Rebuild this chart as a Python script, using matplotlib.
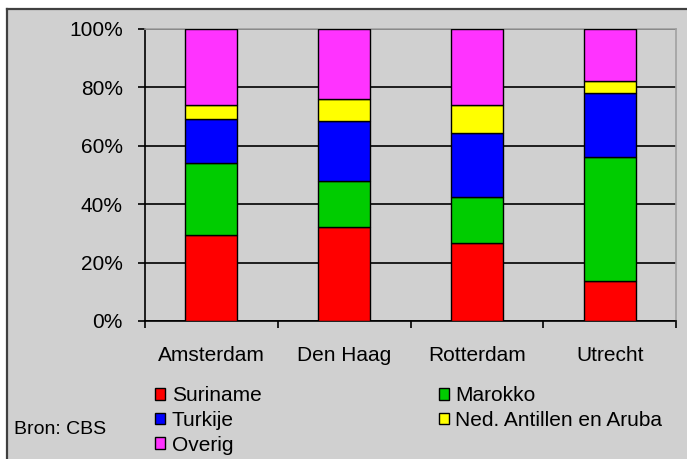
import numpy as np
import matplotlib.pyplot as plt
from matplotlib.patches import Rectangle, Patch
from matplotlib.lines import Line2D

plt.rcParams['font.family'] = ['Liberation Sans', 'DejaVu Sans']

cities = ['Amsterdam', 'Den Haag', 'Rotterdam', 'Utrecht']
groups = ['Suriname', 'Marokko', 'Turkije', 'Ned. Antillen en Aruba', 'Overig']
colors = ['#ff0000', '#00cc00', '#0000ff', '#ffff00', '#ff33ff']

# shares in percent
suriname = [29.6, 32.3, 26.8, 13.8]
marokko = [24.6, 15.6, 15.7, 42.4]
turkije = [15.1, 20.7, 22.0, 22.0]
antillen = [4.6, 7.5, 9.5, 4.1]
overig = [26.1, 23.9, 26.0, 17.7]

yticks = [0, 20, 40, 60, 80, 100]

bg = '#d0d0d0'
fig = plt.figure(figsize=(6.87, 4.59), dpi=100, facecolor='white')

# grey chart area with dark frame on left and top
fig.patches.append(Rectangle((7 / 687, 0), 1, 1 - 9 / 459, transform=fig.transFigure,
                             facecolor=bg, edgecolor='none', zorder=-2))
fig.lines.append(Line2D([7 / 687, 7 / 687], [0, 1 - 9 / 459], transform=fig.transFigure,
                        color='#404040', lw=1.6, zorder=-1))
fig.lines.append(Line2D([7 / 687, 1], [1 - 9 / 459, 1 - 9 / 459], transform=fig.transFigure,
                        color='#404040', lw=1.6, zorder=-1))

ax = fig.add_axes([145 / 687, 1 - 321 / 459, (676 - 145) / 687, (321 - 29) / 459])
ax.set_facecolor(bg)

series = [suriname, marokko, turkije, antillen, overig]
x = np.arange(len(cities))
bottom = np.zeros(len(cities))
for vals, col, name in zip(series, colors, groups):
    vals = np.array(vals)
    ax.bar(x, vals, 0.39, bottom=bottom, color=col, edgecolor='black', linewidth=1.0,
           label=name, zorder=3)
    bottom += vals

ax.set_xlim(-0.5, len(cities) - 0.5)
ax.set_ylim(0, 100)
ax.set_yticks(yticks)
ax.set_yticklabels([f'{t}%' for t in yticks])
ax.set_xticks(x)
ax.set_xticklabels(cities)
ax.set_xticks(np.arange(len(cities) + 1) - 0.5, minor=True)

ax.tick_params(axis='y', length=5, width=1.2, pad=11, labelsize=15, color='black')
ax.tick_params(axis='x', which='major', length=0, pad=18, labelsize=15)
ax.tick_params(axis='x', which='minor', length=5, width=1.2, color='black')

ax.set_axisbelow(True)
ax.yaxis.grid(True, color='black', linewidth=1.2)

for side in ['left', 'bottom']:
    ax.spines[side].set_color('black')
    ax.spines[side].set_linewidth(1.2)
for side in ['top', 'right']:
    ax.spines[side].set_color('#a0a0a0')
    ax.spines[side].set_linewidth(1.2)

# legend: column-wise order as in the original
order = [0, 2, 4, 1, 3]
handles = [Patch(facecolor=colors[i], edgecolor='black', linewidth=1.0) for i in order]
labels = [groups[i] for i in order]
fig.legend(handles, labels, ncol=2, loc='upper left',
           bbox_to_anchor=(155 / 687, 1 - 386 / 459), frameon=False,
           fontsize=15, handlelength=0.5, handleheight=0.5, handletextpad=0.3,
           columnspacing=8.5, labelspacing=0.28, borderpad=0, borderaxespad=0)

fig.text(14 / 687, 1 - 430 / 459, 'Bron: CBS', fontsize=14, va='center', ha='left')

fig.savefig('out.png', dpi=100, facecolor=fig.get_facecolor())
